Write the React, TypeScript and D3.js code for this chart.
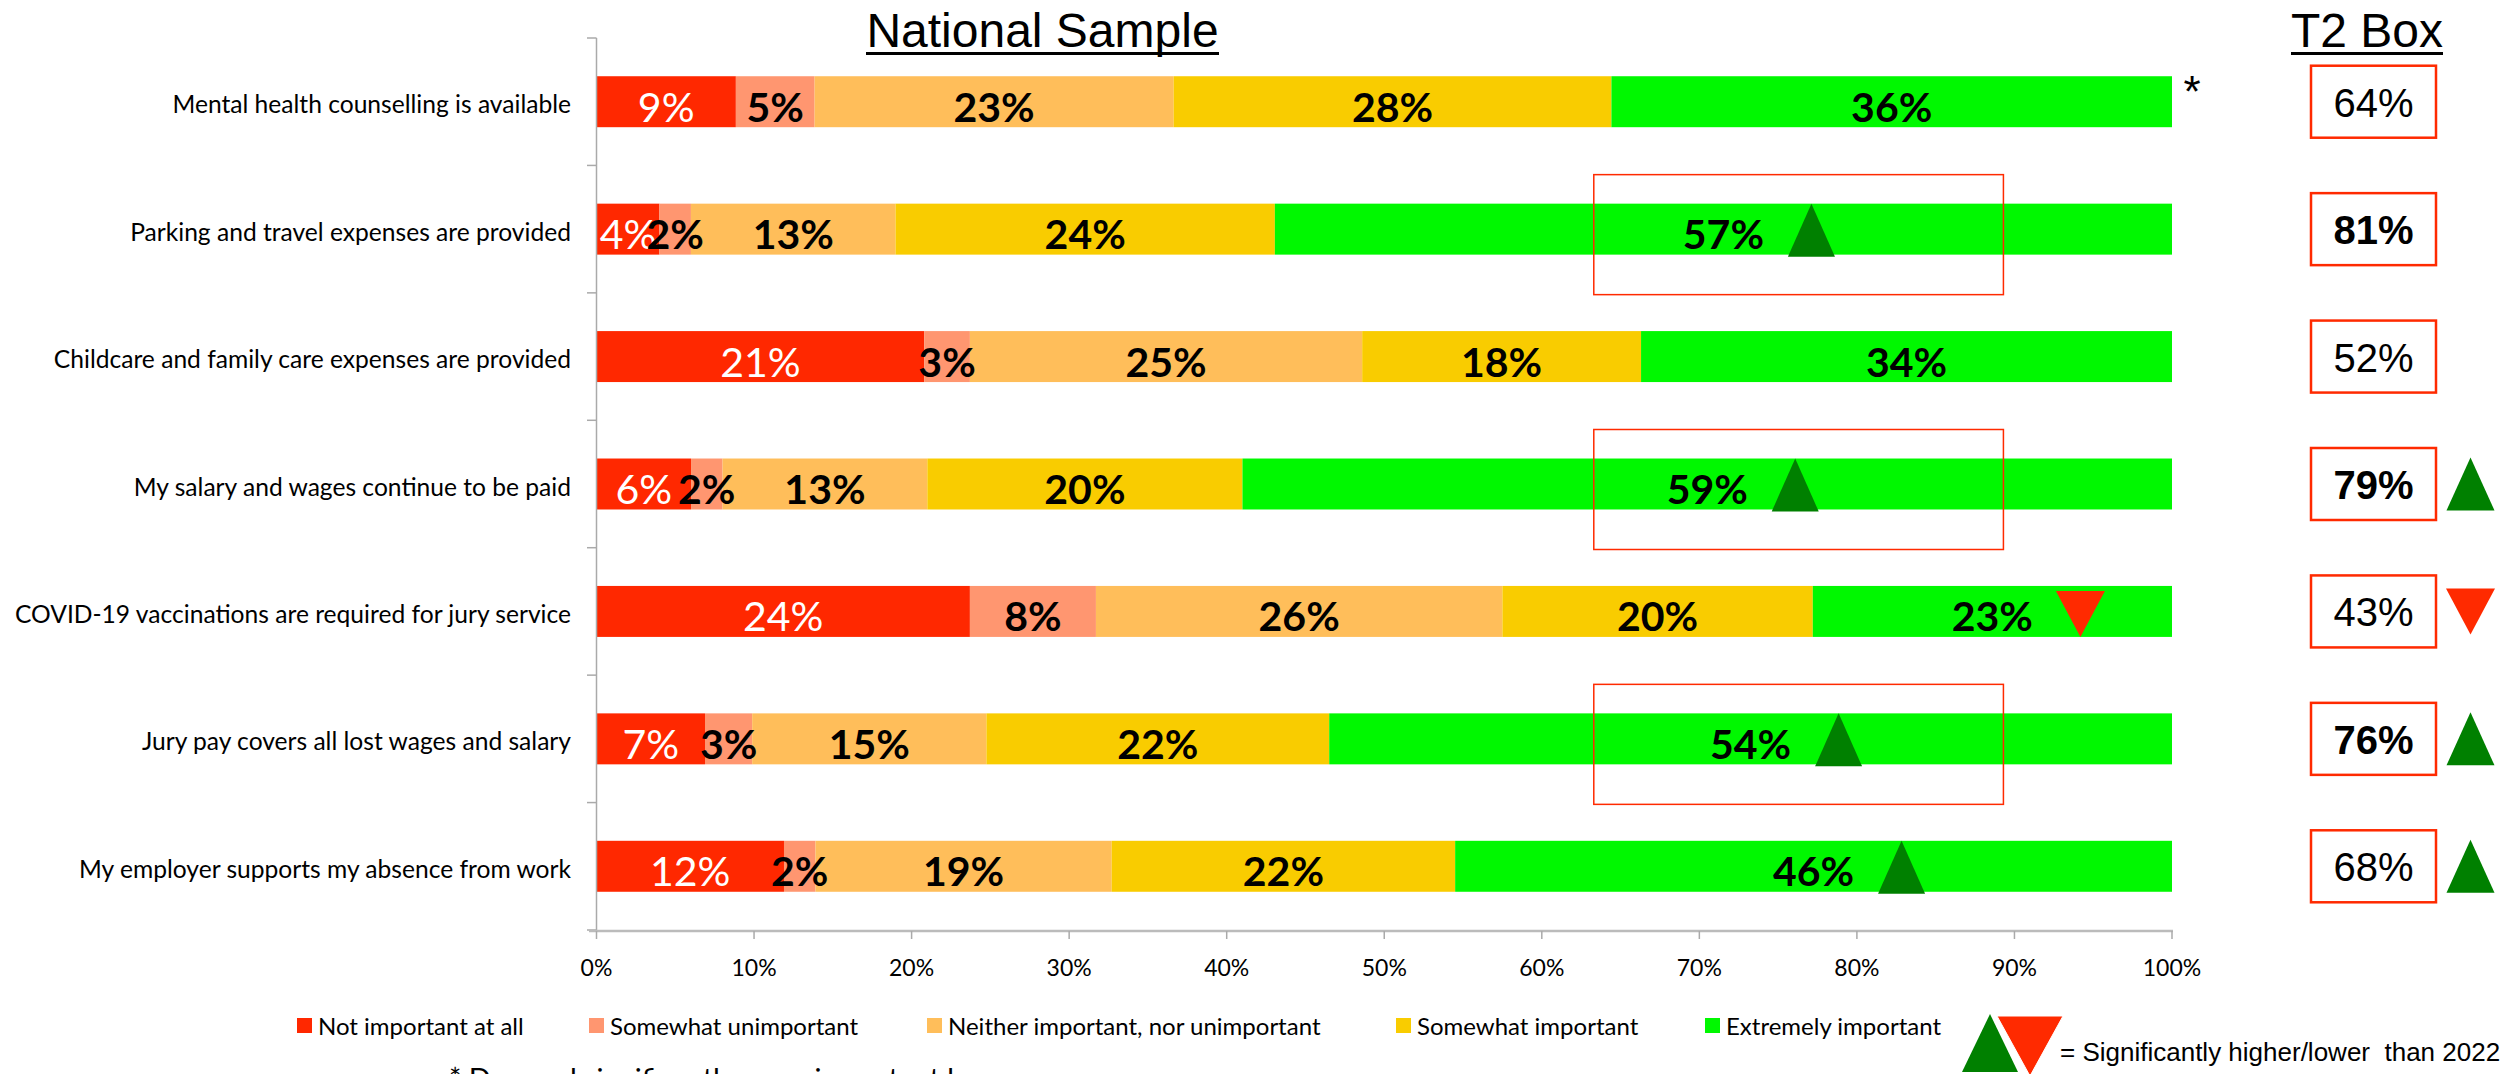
import React from "react";
import * as d3 from "d3";

const categories = [
  "Mental health counselling is available",
  "Parking and travel expenses are provided",
  "Childcare and family care expenses are provided",
  "My salary and wages continue to be paid",
  "COVID-19 vaccinations are required for jury service",
  "Jury pay covers all lost wages and salary",
  "My employer supports my absence from work",
];
const seriesNames = [
  "Not important at all",
  "Somewhat unimportant",
  "Neither important, nor unimportant",
  "Somewhat important",
  "Extremely important",
];
const seriesColors = ["#FF2800", "#FF9670", "#FFBE5A", "#F9CC00", "#00F800"];

const notImportant = [8.85, 4.0, 20.8, 6.0, 23.7, 6.9, 11.9];
const somewhatUnimportant = [5.0, 2.0, 2.9, 2.0, 8.0, 3.0, 2.0];
const neither = [22.8, 13.0, 24.9, 13.0, 25.8, 14.9, 18.8];
const somewhatImportant = [27.8, 24.1, 17.7, 20.0, 19.7, 21.8, 21.8];
const extremely = [35.6, 57.0, 33.7, 59.0, 22.8, 53.6, 45.5];

const t2Values = [64, 81, 52, 79, 43, 76, 68];
const t2Bold = [false, true, false, true, false, true, false];
const t2Significance = [0, 0, 0, 1, -1, 1, 1];
const barSignificance = [0, 1, 0, 1, -1, 1, 1];
const womenStar = [true, false, false, false, false, false, false];
const highlightRows = [false, true, false, true, false, true, false];
const highlightRange = [0.633, 0.893];
const xTicks = [0, 0.1, 0.2, 0.3, 0.4, 0.5, 0.6, 0.7, 0.8, 0.9, 1];

const W = 2509;
const H = 1074;
const CAL = "Lato, 'Noto Sans', sans-serif";
const ARI = "'Liberation Sans', Arial, sans-serif";
const RED = "#FF2A00";
const DKGREEN = "#008000";

export default function App() {
  const x = d3.scaleLinear().domain([0, 1]).range([596.5, 2172]);
  const y = d3
    .scaleBand<string>()
    .domain(categories)
    .range([38, 930])
    .paddingInner(0.6)
    .paddingOuter(0.3);

  const rows = categories.map((c, i) => ({
    cat: c,
    s0: notImportant[i],
    s1: somewhatUnimportant[i],
    s2: neither[i],
    s3: somewhatImportant[i],
    s4: extremely[i],
  }));
  const keys = ["s0", "s1", "s2", "s3", "s4"];
  const stack = d3.stack<any>().keys(keys).offset(d3.stackOffsetExpand);
  const layers = stack(rows);

  const bw = y.bandwidth();
  const step = y.step();
  const top = y.range()[0];
  const bottom = y.range()[1];

  const up = (cx: number, yTop: number, w: number, h: number) =>
    `M${cx},${yTop}L${cx + w / 2},${yTop + h}L${cx - w / 2},${yTop + h}Z`;
  const down = (cx: number, yTop: number, w: number, h: number) =>
    `M${cx - w / 2},${yTop}L${cx + w / 2},${yTop}L${cx},${yTop + h}Z`;

  const legendX = [297, 589, 927, 1396, 1705];

  return (
    <svg
      width={W}
      height={H}
      viewBox={`0 0 ${W} ${H}`}
      style={{ position: "absolute", left: 0, top: 0, background: "#fff" }}
    >
      <defs>
        <linearGradient id="topline" x1="0" x2="1" y1="0" y2="0">
          <stop offset="0" stopColor="#f0f0f0" />
          <stop offset="1" stopColor="#555" />
        </linearGradient>
      </defs>
      <rect x={0} y={0} width={W} height={H} fill="#fff" />
      <line x1={1177} x2={W} y1={1} y2={1} stroke="url(#topline)" strokeWidth={2} />

      {/* Titles */}
      <text x={1042.5} y={47} textAnchor="middle" fontFamily={ARI} fontSize={48} fill="#000">
        National Sample
      </text>
      <rect x={866} y={52} width={353} height={3} fill="#000" />
      <text x={2367} y={47} textAnchor="middle" fontFamily={ARI} fontSize={48} fill="#000">
        T2 Box
      </text>
      <rect x={2291} y={52} width={152} height={3} fill="#000" />

      {/* Bars */}
      {layers.map((layer, si) => (
        <g key={si}>
          {layer.map((d, i) => {
            const x0 = x(d[0]);
            const x1 = x(d[1]);
            const yy = y(categories[i])!;
            return <rect key={i} x={x0} y={yy} width={x1 - x0} height={bw} fill={seriesColors[si]} />;
          })}
        </g>
      ))}

      {/* Y axis */}
      <line x1={596.5} x2={596.5} y1={top} y2={bottom + 1} stroke="#aaa" strokeWidth={1.5} />
      {d3.range(categories.length + 1).map((i) => (
        <line
          key={i}
          x1={587}
          x2={596.5}
          y1={top + i * step}
          y2={top + i * step}
          stroke="#aaa"
          strokeWidth={1.5}
        />
      ))}

      {/* Bar labels */}
      {layers.map((layer, si) => (
        <g key={"l" + si}>
          {layer.map((d, i) => {
            const raw = (rows[i] as any)[keys[si]];
            const cx = x((d[0] + d[1]) / 2);
            const cy = y(categories[i])! + bw / 2;
            const isWhite = si === 0;
            return (
              <text
                key={i}
                x={cx}
                y={cy + 20}
                textAnchor="middle"
                fontFamily={CAL}
                fontSize={41}
                fontWeight={isWhite ? 400 : 700}
                fill={isWhite ? "#fff" : "#000"}
              >
                {Math.round(raw)}%
              </text>
            );
          })}
        </g>
      ))}

      {/* Category labels */}
      {categories.map((c, i) => (
        <text
          key={c}
          x={571}
          y={y(c)! + bw / 2 + 11.5}
          textAnchor="end"
          fontFamily={CAL}
          fontSize={24.6}
          fill="#000"
        >
          {c}
        </text>
      ))}

      {/* X axis */}
      <line x1={589} x2={2173} y1={931} y2={931} stroke="#bbb" strokeWidth={2.5} />
      {xTicks.map((t) => (
        <g key={t}>
          <line x1={x(t)} x2={x(t)} y1={931} y2={939} stroke="#aaa" strokeWidth={1.5} />
          <text x={x(t)} y={976} textAnchor="middle" fontFamily={CAL} fontSize={23} fill="#000">
            {Math.round(t * 100)}%
          </text>
        </g>
      ))}

      {/* Highlight rectangles */}
      {categories.map((c, i) =>
        highlightRows[i] ? (
          <rect
            key={"h" + i}
            x={x(highlightRange[0])}
            y={y(c)! + bw / 2 - 54.5}
            width={x(highlightRange[1]) - x(highlightRange[0])}
            height={120}
            fill="none"
            stroke={RED}
            strokeWidth={1.5}
          />
        ) : null
      )}

      {/* In-bar significance triangles */}
      {layers[4].map((d, i) => {
        const sig = barSignificance[i];
        if (!sig) return null;
        const cx = x((d[0] + d[1]) / 2) + 88;
        const yy = y(categories[i])!;
        return sig > 0 ? (
          <path key={"t" + i} d={up(cx, yy, 47, 53)} fill={DKGREEN} />
        ) : (
          <path key={"t" + i} d={down(cx, yy + 5, 49, 46)} fill={RED} />
        );
      })}

      {/* Star */}
      {categories.map((c, i) =>
        womenStar[i] ? (
          <text key={"s" + i} x={2192} y={y(c)! + 31} textAnchor="middle" fontFamily={ARI} fontSize={44} fill="#000">
            *
          </text>
        ) : null
      )}

      {/* T2 boxes */}
      {categories.map((c, i) => {
        const cy = y(c)! + bw / 2;
        const sig = t2Significance[i];
        return (
          <g key={"b" + i}>
            <rect x={2311} y={cy - 36} width={125} height={72} fill="#fff" stroke={RED} strokeWidth={2.5} />
            <text
              x={2373.5}
              y={cy + 15}
              textAnchor="middle"
              fontFamily={ARI}
              fontSize={40}
              fontWeight={t2Bold[i] ? 700 : 400}
              fill="#000"
            >
              {t2Values[i]}%
            </text>
            {sig > 0 ? <path d={up(2470.5, cy - 26.5, 48, 53)} fill={DKGREEN} /> : null}
            {sig < 0 ? <path d={down(2470.5, cy - 23, 49, 46)} fill={RED} /> : null}
          </g>
        );
      })}

      {/* Legend */}
      {seriesNames.map((n, i) => (
        <g key={n}>
          <rect x={legendX[i]} y={1018} width={15} height={15} fill={seriesColors[i]} />
          <text x={legendX[i] + 21} y={1035} fontFamily={CAL} fontSize={24} fill="#000">
            {n}
          </text>
        </g>
      ))}
      <path d={up(1990, 1014, 56, 58)} fill={DKGREEN} />
      <path d={down(2030, 1016, 66, 60)} fill={RED} stroke="#fff" strokeWidth={1} />
      <text x={2060} y={1061} fontFamily={ARI} fontSize={26} fill="#000" style={{ whiteSpace: "pre" }}>
        {"= Significantly higher/lower  than 2022"}
      </text>

      <text x={449} y={1089} fontFamily={CAL} fontSize={29} fill="#000">
        * Deemed significantly more important by women
      </text>
    </svg>
  );
}
